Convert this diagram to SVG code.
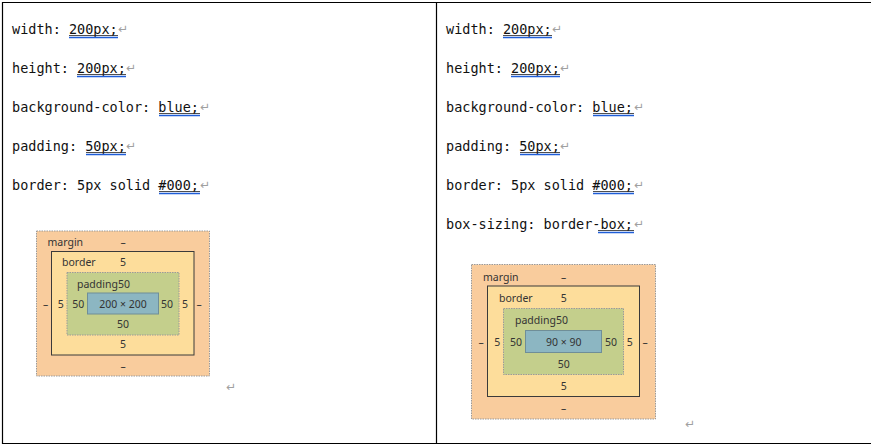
<svg xmlns="http://www.w3.org/2000/svg" width="871" height="446" viewBox="0 0 871 446">
<style>
.code{font-family:"DejaVu Sans Mono","Liberation Mono",monospace;font-size:13.5px;fill:#111}
.ret{font-family:"DejaVu Sans",sans-serif;font-size:12px;fill:#a0a0a0}
.ul1{stroke:#222;stroke-width:0.8}
.ul2{stroke:#1f5ed8;stroke-width:1.4}
.lbl{font-family:"Noto Sans","Liberation Sans",sans-serif;font-size:10.5px;fill:#333}
.c{text-anchor:middle}
.mg{fill:#f9cc9d;stroke:#9a9a9a;stroke-width:1;stroke-dasharray:1.5 1}
.bd{fill:#fddd9b;stroke:#3a3a3a;stroke-width:1}
.pd{fill:#c4cf8c;stroke:#9a9a9a;stroke-width:1;stroke-dasharray:1.5 1}
.ct{fill:#8cb6c2;stroke:#6f8e98;stroke-width:1}
.tb{stroke:#000;stroke-width:1.2;fill:none}
</style>
<rect width="871" height="446" fill="#fff"/>
<g id="table">
<line class="tb" x1="2" y1="2.5" x2="871" y2="2.5"/>
<line class="tb" x1="2.5" y1="2" x2="2.5" y2="444"/>
<line class="tb" x1="2" y1="443.5" x2="871" y2="443.5"/>
<line class="tb" x1="436.5" y1="2" x2="436.5" y2="444"/>
</g>
<g id="left-code">
<text class="code" x="12" y="34">width: 200px;</text>
<line class="ul1" x1="69" y1="35.5" x2="118" y2="35.5"/><line class="ul2" x1="69" y1="37.5" x2="118" y2="37.5"/>
<text class="ret" x="118" y="33">↵</text>
<text class="code" x="12" y="73">height: 200px;</text>
<line class="ul1" x1="77" y1="74.5" x2="126" y2="74.5"/><line class="ul2" x1="77" y1="76.5" x2="126" y2="76.5"/>
<text class="ret" x="126" y="72">↵</text>
<text class="code" x="12" y="112">background-color: blue;</text>
<line class="ul1" x1="159" y1="113.5" x2="200" y2="113.5"/><line class="ul2" x1="159" y1="115.5" x2="200" y2="115.5"/>
<text class="ret" x="200" y="111">↵</text>
<text class="code" x="12" y="151">padding: 50px;</text>
<line class="ul1" x1="86" y1="152.5" x2="126" y2="152.5"/><line class="ul2" x1="86" y1="154.5" x2="126" y2="154.5"/>
<text class="ret" x="126" y="150">↵</text>
<text class="code" x="12" y="190">border: 5px solid #000;</text>
<line class="ul1" x1="159" y1="191.5" x2="200" y2="191.5"/><line class="ul2" x1="159" y1="193.5" x2="200" y2="193.5"/>
<text class="ret" x="200" y="189">↵</text>
</g>
<g id="left-boxmodel">
<rect class="mg" x="36.5" y="231" width="173" height="145"/>
<rect class="bd" x="51.5" y="251.5" width="142.5" height="103.5"/>
<rect class="pd" x="67" y="272.5" width="112" height="62.5"/>
<rect class="ct" x="87.5" y="293" width="71" height="21"/>
<text class="lbl" x="47.5" y="245.5">margin</text>
<text class="lbl c" x="123" y="245.5">–</text>
<text class="lbl" x="62" y="265.5">border</text>
<text class="lbl c" x="123" y="265.5">5</text>
<text class="lbl" x="77" y="287.5">padding50</text>
<text class="lbl c" x="45.7" y="307.5">–</text>
<text class="lbl c" x="60.7" y="307.5">5</text>
<text class="lbl c" x="78.3" y="307.5">50</text>
<text class="lbl c" x="123" y="307.5">200 × 200</text>
<text class="lbl c" x="167" y="307.5">50</text>
<text class="lbl c" x="185" y="307.5">5</text>
<text class="lbl c" x="199" y="307.5">–</text>
<text class="lbl c" x="123" y="327.5">50</text>
<text class="lbl c" x="123" y="347.5">5</text>
<text class="lbl c" x="123" y="369.5">–</text>
<text class="ret" x="226" y="391">↵</text>
</g>
<g id="right-code">
<text class="code" x="446" y="34">width: 200px;</text>
<line class="ul1" x1="503" y1="35.5" x2="552" y2="35.5"/><line class="ul2" x1="503" y1="37.5" x2="552" y2="37.5"/>
<text class="ret" x="552" y="33">↵</text>
<text class="code" x="446" y="73">height: 200px;</text>
<line class="ul1" x1="511" y1="74.5" x2="560" y2="74.5"/><line class="ul2" x1="511" y1="76.5" x2="560" y2="76.5"/>
<text class="ret" x="560" y="72">↵</text>
<text class="code" x="446" y="112">background-color: blue;</text>
<line class="ul1" x1="593" y1="113.5" x2="634" y2="113.5"/><line class="ul2" x1="593" y1="115.5" x2="634" y2="115.5"/>
<text class="ret" x="634" y="111">↵</text>
<text class="code" x="446" y="151">padding: 50px;</text>
<line class="ul1" x1="520" y1="152.5" x2="560" y2="152.5"/><line class="ul2" x1="520" y1="154.5" x2="560" y2="154.5"/>
<text class="ret" x="560" y="150">↵</text>
<text class="code" x="446" y="190">border: 5px solid #000;</text>
<line class="ul1" x1="593" y1="191.5" x2="634" y2="191.5"/><line class="ul2" x1="593" y1="193.5" x2="634" y2="193.5"/>
<text class="ret" x="634" y="189">↵</text>
<text class="code" x="446" y="229">box-sizing: border-box;</text>
<line class="ul1" x1="598" y1="230.5" x2="634" y2="230.5"/><line class="ul2" x1="598" y1="232.5" x2="634" y2="232.5"/>
<text class="ret" x="634" y="228">↵</text>
</g>
<g id="right-boxmodel">
<rect class="mg" x="471.5" y="264.5" width="184" height="154.5"/>
<rect class="bd" x="487.5" y="286" width="152" height="110.5"/>
<rect class="pd" x="503.5" y="308.5" width="120" height="66"/>
<rect class="ct" x="525.5" y="330.5" width="76" height="22"/>
<text class="lbl" x="483" y="280.5">margin</text>
<text class="lbl c" x="563.7" y="280.5">–</text>
<text class="lbl" x="499" y="301.5">border</text>
<text class="lbl c" x="563.7" y="301.5">5</text>
<text class="lbl" x="515" y="324">padding50</text>
<text class="lbl c" x="481" y="345.5">–</text>
<text class="lbl c" x="497.3" y="345.5">5</text>
<text class="lbl c" x="516" y="345.5">50</text>
<text class="lbl c" x="563.7" y="345.5">90 × 90</text>
<text class="lbl c" x="611" y="345.5">50</text>
<text class="lbl c" x="629.7" y="345.5">5</text>
<text class="lbl c" x="645" y="345.5">–</text>
<text class="lbl c" x="563.7" y="368">50</text>
<text class="lbl c" x="563.7" y="389.5">5</text>
<text class="lbl c" x="563.7" y="412">–</text>
<text class="ret" x="685" y="428">↵</text>
</g>
</svg>
